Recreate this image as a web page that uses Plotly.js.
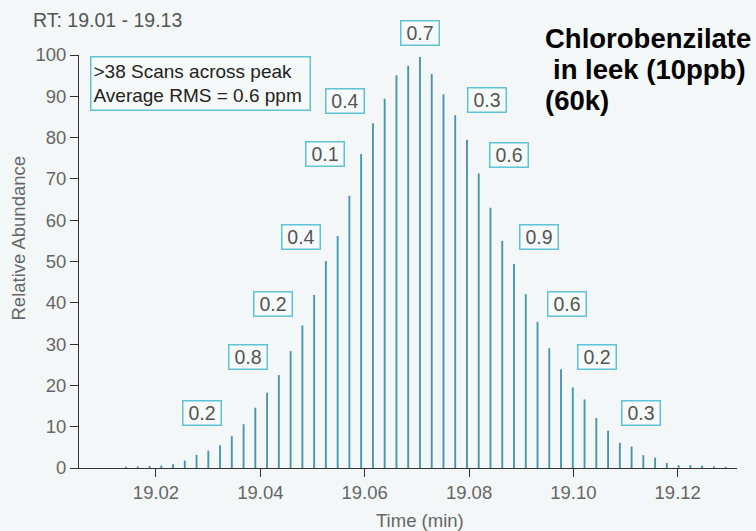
<!DOCTYPE html>
<html>
<head>
<meta charset="utf-8">
<script src="https://cdn.plot.ly/plotly-3.0.1.min.js"></script>
<style>html,body{margin:0;padding:0;background:#f4f7f7;}#chart{width:756px;height:531px;}</style>
</head>
<body>
<div id="chart"></div>
<script>
// Scan times (min) and relative abundance (%)
const times = [19.01425,19.01650,19.01876,19.02101,19.02326,19.02552,19.02777,19.03003,19.03228,19.03453,
  19.03679,19.03904,19.04129,19.04355,19.04580,19.04806,19.05031,19.05256,19.05482,19.05707,
  19.05932,19.06158,19.06383,19.06609,19.06834,19.07059,19.07285,19.07510,19.07735,19.07961,
  19.08186,19.08411,19.08637,19.08862,19.09088,19.09313,19.09538,19.09764,19.09989,19.10214,
  19.10440,19.10665,19.10891,19.11116,19.11341,19.11567,19.11792,19.12017,19.12243,19.12468,
  19.12694,19.12919];
const abundance = [0.3,0.4,0.5,0.6,0.9,1.8,3.2,4.2,5.5,7.7,
  10.6,14.6,18.2,22.5,28.3,34.5,41.9,50.1,56.2,65.9,
  76.0,83.5,89.4,95.1,97.4,99.5,95.4,90.5,85.4,79.5,
  71.3,63.0,55.0,49.4,42.1,35.4,29.0,23.9,19.5,16.6,
  12.1,9.0,6.1,5.2,3.1,2.5,1.2,0.7,0.7,0.6,
  0.4,0.3];
const xTickVals = [19.02,19.04,19.06,19.08,19.10,19.12];
const xTickText = ['19.02','19.04','19.06','19.08','19.10','19.12'];
const yTickVals = [0,10,20,30,40,50,60,70,80,90,100];
const rmsLabels = ['0.2','0.8','0.2','0.4','0.1','0.4','0.7','0.3','0.6','0.9','0.6','0.2','0.3'];
const titleLines = ['Chlorobenzilate','in leek (10ppb)','(60k)'];
const infoText = '&gt;38 Scans across peak<br>Average RMS = 0.6 ppm';
const rtText = 'RT: 19.01 - 19.13';

// layout geometry (pixels)
const W = 756, H = 531, L = 79, R = 19, T = 55, B = 63;
const PW = W - L - R, PH = H - T - B;
const px = v => (v - L) / PW;
const py = v => (H - B - v) / PH;

const FONT = 'Liberation Sans, Arial, Helvetica, sans-serif';
const boxPos = [[202,413],[248,357],[273,304],[301,237],[325,154],[345,101],[420,33],[487,100],[509,155],[539,237],[567,304],[597,357],[641,413]];

const annotations = rmsLabels.map((t, i) => ({
  text: t, xref: 'paper', yref: 'paper', x: px(boxPos[i][0]), y: py(boxPos[i][1]),
  xanchor: 'center', yanchor: 'middle', showarrow: false,
  font: {family: FONT, size: 19.5, color: '#555'},
  bordercolor: '#5ec3d6', borderwidth: 1.5, borderpad: 1, bgcolor: '#f7fafa',
  width: 35, height: 21
}));

annotations.push({
  text: infoText, xref: 'paper', yref: 'paper', x: px(90), y: py(56),
  xanchor: 'left', yanchor: 'top', align: 'left', showarrow: false,
  font: {family: FONT, size: 19, color: '#222'},
  bordercolor: '#5ec3d6', borderwidth: 1.5, borderpad: 2, bgcolor: '#f7fafa',
  width: 214, height: 48
});

annotations.push({
  text: rtText, xref: 'paper', yref: 'paper', x: px(31), y: py(20),
  xanchor: 'left', yanchor: 'middle', showarrow: false,
  font: {family: FONT, size: 19.5, color: '#555'}
});

const titleX = [543, 551, 543], titleY = [38, 69, 100];
titleLines.forEach((t, i) => annotations.push({
  text: '<b>' + t + '</b>', xref: 'paper', yref: 'paper', x: px(titleX[i]), y: py(titleY[i]),
  xanchor: 'left', yanchor: 'middle', showarrow: false,
  font: {family: FONT, size: 27.5, color: '#000'}
}));

annotations.push({
  text: 'Relative Abundance', xref: 'paper', yref: 'paper', x: px(18.5), y: py(238),
  xanchor: 'center', yanchor: 'middle', textangle: -90, showarrow: false,
  font: {family: FONT, size: 18.5, color: '#666'}
});
annotations.push({
  text: 'Time (min)', xref: 'paper', yref: 'paper', x: px(420), y: py(520),
  xanchor: 'center', yanchor: 'middle', showarrow: false,
  font: {family: FONT, size: 18.5, color: '#666'}
});

const trace = {
  type: 'bar', x: times, y: abundance, width: 0.00036,
  marker: {color: '#4795ae', line: {width: 0}},
  hoverinfo: 'x+y'
};

const layout = {
  width: W, height: H,
  margin: {l: L, r: R, t: T, b: B, pad: 0},
  paper_bgcolor: '#f4f7f7', plot_bgcolor: 'rgba(0,0,0,0)',
  showlegend: false,
  font: {family: FONT},
  xaxis: {
    range: [19.005242, 19.131365], tickmode: 'array', tickvals: xTickVals, ticktext: xTickText,
    ticks: 'outside', ticklen: 8, tickwidth: 1, tickcolor: '#333',
    showline: true, linecolor: '#333', linewidth: 1, showgrid: false, zeroline: false,
    tickfont: {family: FONT, size: 18.5, color: '#666'}
  },
  yaxis: {
    range: [0, 100], tickmode: 'array', tickvals: yTickVals,
    ticks: 'outside', ticklen: 8, tickwidth: 1, tickcolor: '#333',
    showline: true, linecolor: '#333', linewidth: 1, showgrid: false, zeroline: false,
    tickfont: {family: FONT, size: 18.5, color: '#666'}
  },
  annotations: annotations
};

Plotly.newPlot('chart', [trace], layout, {displayModeBar: false, staticPlot: true});
</script>
</body>
</html>
